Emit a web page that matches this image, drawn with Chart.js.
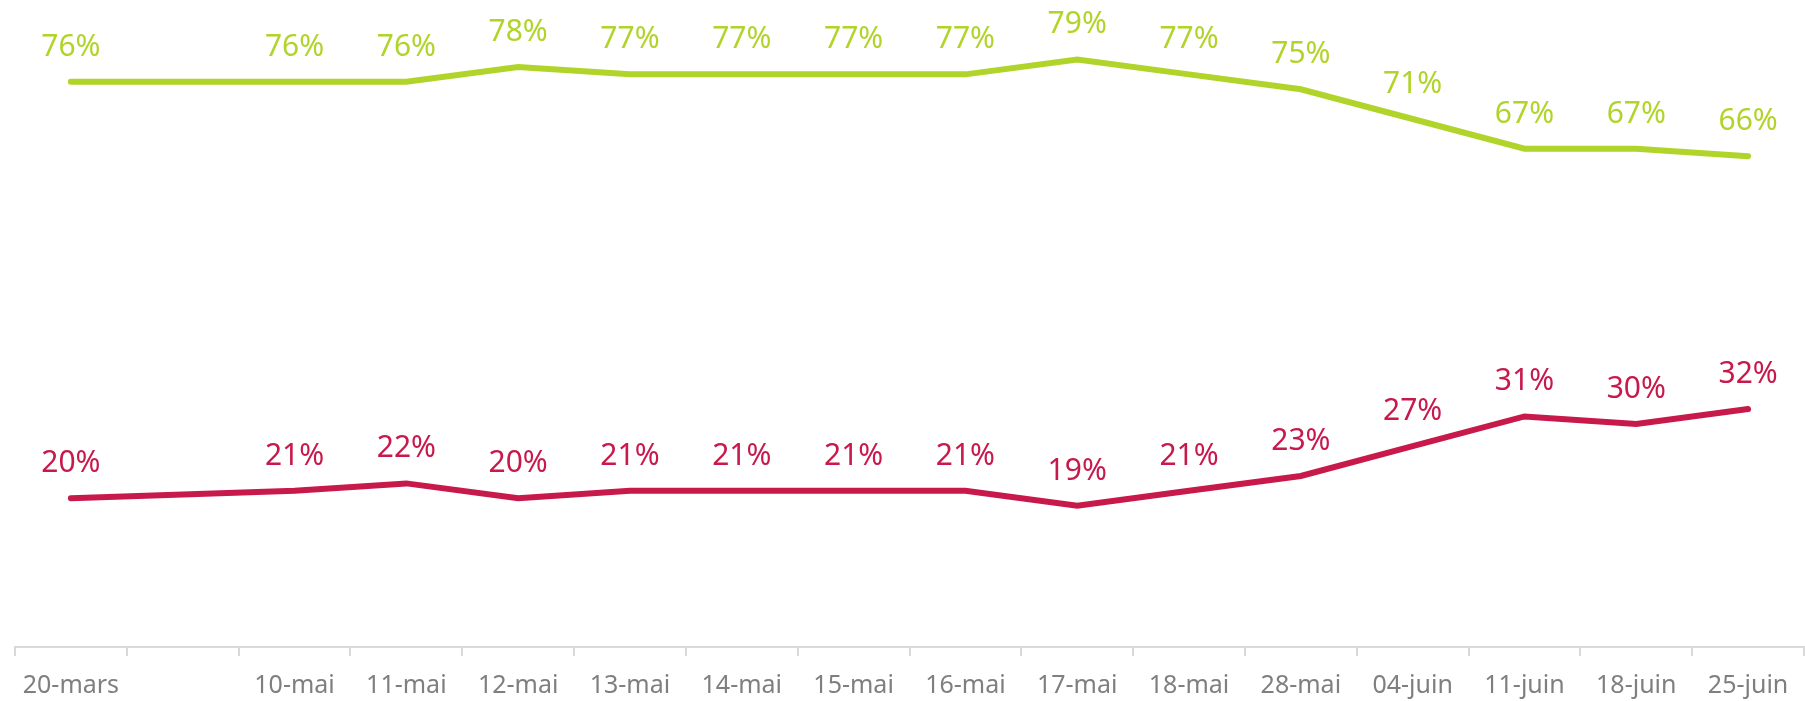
<!DOCTYPE html>
<html>
<head>
<meta charset="utf-8">
<script src="https://cdn.jsdelivr.net/npm/chart.js@4/dist/chart.umd.min.js"></script>
<style>
  html, body { margin: 0; padding: 0; background: #fff; }
  #chart { display: block; }
</style>
</head>
<body>
<canvas id="chart" width="1805" height="701"></canvas>
<script>
// categories (second one is an empty slot on the axis)
const labels = ['20-mars', '', '10-mai', '11-mai', '12-mai', '13-mai', '14-mai', '15-mai', '16-mai',
    '17-mai', '18-mai', '28-mai', '04-juin', '11-juin', '18-juin', '25-juin'];

// series values, in %
const greenValues = [76, null, 76, 76, 78, 77, 77, 77, 77, 79, 77, 75, 71, 67, 67, 66];
const redValues = [20, null, 21, 22, 20, 21, 21, 21, 21, 19, 21, 23, 27, 31, 30, 32];

const green = '#b0d42a';
const red = '#c8194b';

// draws the "76%" labels above every point
const pointLabels = {
    id: 'pointLabels',
    afterDatasetsDraw(chart) {
        const ctx = chart.ctx;
        ctx.save();
        ctx.font = '30px "Noto Sans"';
        ctx.textAlign = 'center';
        ctx.textBaseline = 'alphabetic';
        chart.data.datasets.forEach((ds, i) => {
            const meta = chart.getDatasetMeta(i);
            ctx.fillStyle = ds.borderColor;
            meta.data.forEach((pt, j) => {
                const v = ds.data[j];
                if (v == null) return;
                ctx.fillText(Math.round(v) + '%', pt.x, pt.y - 26);
            });
        });
        ctx.restore();
    }
};

new Chart(document.getElementById('chart'), {
    type: 'line',
    data: {
        labels: labels,
        datasets: [{
            data: greenValues,
            borderColor: green,
            borderWidth: 6,
            borderCapStyle: 'round',
            borderJoinStyle: 'miter',
            pointRadius: 0,
            spanGaps: true,
            tension: 0
        }, {
            data: redValues,
            borderColor: red,
            borderWidth: 6,
            borderCapStyle: 'round',
            borderJoinStyle: 'miter',
            pointRadius: 0,
            spanGaps: true,
            tension: 0
        }]
    },
    options: {
        responsive: false,
        animation: false,
        layout: { padding: { left: 15, right: 1, top: 0, bottom: 0 } },
        plugins: {
            legend: { display: false },
            tooltip: { enabled: false }
        },
        scales: {
            x: {
                offset: true,
                afterFit(scale) { scale.height = 54; },
                grid: {
                    offset: true,
                    drawOnChartArea: false,
                    drawTicks: true,
                    tickLength: 9,
                    color: '#d9d9d9',
                    lineWidth: 2
                },
                border: { display: true, color: '#d9d9d9', width: 2 },
                ticks: {
                    color: '#7f7f7f',
                    font: { family: '"Noto Sans"', size: 25 },
                    padding: 15,
                    maxRotation: 0,
                    autoSkip: false
                }
            },
            y: {
                display: false,
                min: 0,
                max: 87
            }
        }
    },
    plugins: [pointLabels]
});
</script>
</body>
</html>
